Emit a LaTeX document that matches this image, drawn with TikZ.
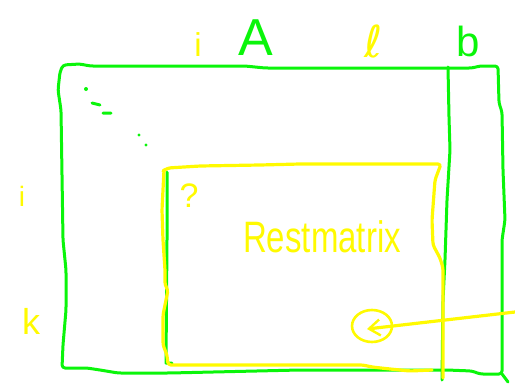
\documentclass[tikz,border=0pt]{standalone}
\usepackage{fontspec}
\setmainfont{Liberation Sans}
\newfontfamily\symfont{DejaVu Sans}
\usetikzlibrary{arrows.meta,shapes.geometric}
\definecolor{penGreen}{RGB}{10,245,10}
\definecolor{penYellow}{RGB}{255,250,0}
\tikzset{
  greenpen/.style={draw=penGreen, line width=3pt, line cap=round, line join=round},
  yellowpen/.style={draw=penYellow, line width=3.2pt, line cap=round, line join=round},
  glabel/.style={text=penGreen, inner sep=0pt, anchor=base},
  ylabel/.style={text=penYellow, inner sep=0pt, anchor=base},
}
\begin{document}
\begin{tikzpicture}[x=1pt, y=-1pt]
\useasboundingbox (0,0) rectangle (515,391);

% matrix A with the appended column b
\draw[greenpen, rounded corners=3pt]
  (63,65) -- (80,64) -- (90,66) -- (245,66) -- (265,68) -- (472,68) -- (480,66) -- (498,66)
  -- (499,103) -- (502,112) -- (503,170) -- (505,220) -- (502,240) -- (502,374)
  -- (480,374) -- (472,371) -- (447,370) -- (300,370) -- (170,373) -- (118,373)
  -- (100,370) -- (87,368) -- (62,368) -- (63,345) -- (66,310) -- (66,270)
  -- (63,240) -- (62,175) -- (61,110) -- (58,90) -- (60,72) -- cycle;
\draw[greenpen] (502,374) -- (508,382);
\draw[greenpen, rounded corners=3pt]
  (448,67) -- (449,117) -- (450,150) -- (447,200) -- (445,260) -- (443,300) -- (442,380);
\draw[greenpen] (167,172) -- (167,240) -- (166,363) -- (172,363);

% diagonal dots
\fill[penGreen] (86,89) circle (2pt) (139,135) circle (1.6pt) (146,145) circle (1.6pt);
\draw[greenpen] (92,103) -- (100,105) (103,113) -- (111,113);

% remaining sub-matrix
\draw[yellowpen, rounded corners=3pt]
  (163,171) -- (168,168) -- (200,166) -- (260,165) -- (300,164) -- (441,164)
  -- (435,180) -- (432,220) -- (433,245) -- (440,258) -- (443,268) -- (443,300) -- (443,378);
\draw[yellowpen, rounded corners=3pt]
  (164,170) -- (163,190) -- (162,210) -- (163,240) -- (165,270) -- (165,285)
  -- (168,290) -- (163,315) -- (163,345) -- (167,355) -- (168,365)
  -- (363,365) -- (372,367) -- (390,369) -- (410,371) -- (432,370);

% labels
\node[ylabel, font=\fontsize{33}{36}\selectfont] (ti) at (198,56) {i};
\node[glabel, font=\fontsize{52}{56}\selectfont] (tA) at (256,55) {A};
\node[ylabel, font=\symfont\fontsize{44}{48}\selectfont] (tl) at (374,57) {ℓ};
\node[glabel, font=\fontsize{42}{46}\selectfont] (tb) at (468,56) {b};
\node[ylabel, font=\fontsize{28}{30}\selectfont] (li) at (22,206) {i};
\node[ylabel, font=\fontsize{36}{40}\selectfont] (lk) at (31,334) {k};
\node[ylabel, font=\fontsize{34}{36}\selectfont] (qm) at (189,207) {?};
\node[ylabel, font=\fontsize{44}{48}\selectfont] (rest) at (322,252) {\scalebox{0.75}[1]{Restmatrix}};

% marked entry with pointer
\node[draw=penYellow, line width=2.6pt, ellipse, minimum width=40pt, minimum height=32pt, inner sep=0pt] (circ) at (372,326) {};
\coordinate (tail) at (515,312);
\coordinate (tip) at (367,329);
\draw[yellowpen, -{Straight Barb[length=11pt, width=16pt, line width=2.4pt]}] (tail) -- (tip);
\end{tikzpicture}
\end{document}
